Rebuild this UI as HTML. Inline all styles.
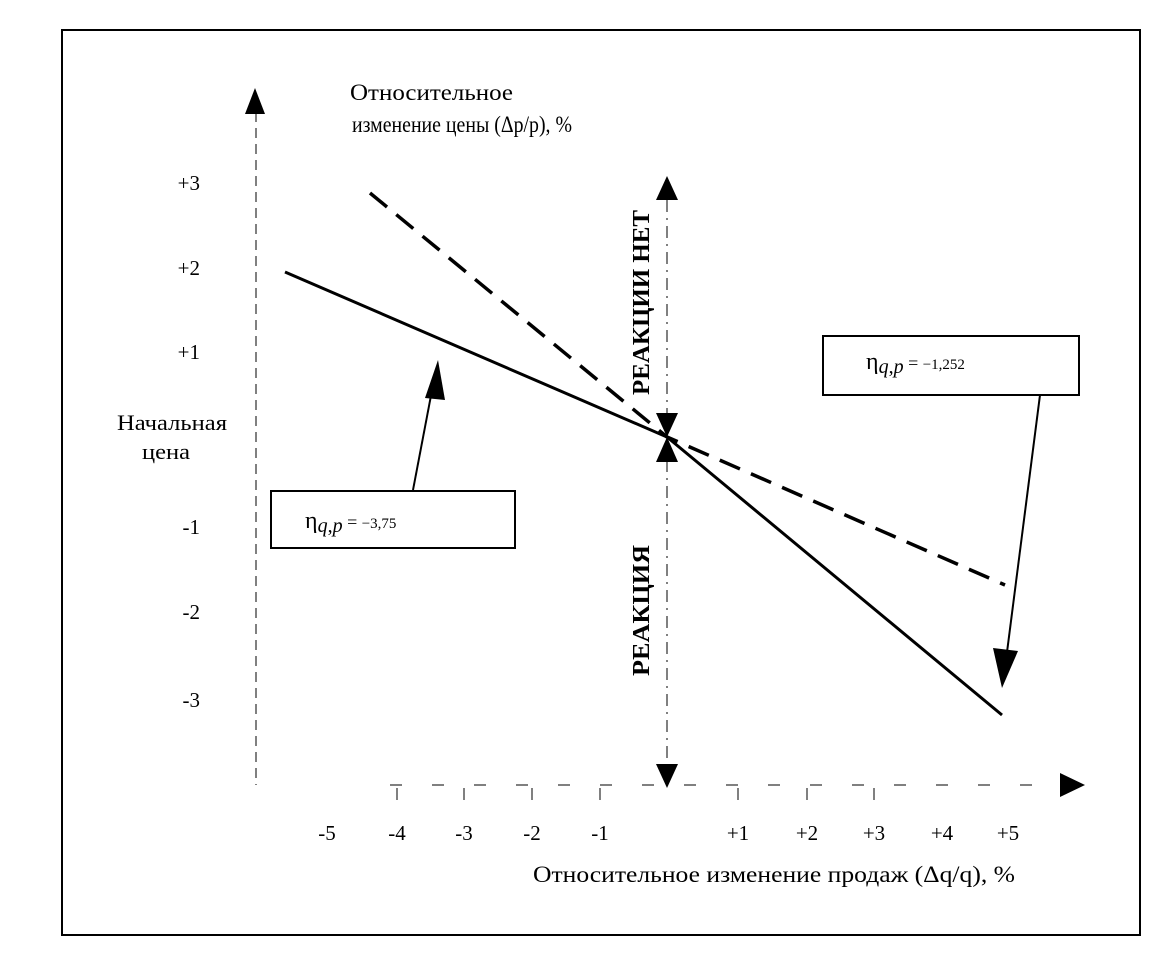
<!DOCTYPE html>
<html><head><meta charset="utf-8"><style>
body{margin:0;background:#fff}
svg text{font-family:"Liberation Serif",serif;fill:#000}
</style></head><body>
<svg width="1153" height="967" viewBox="0 0 1153 967" xmlns="http://www.w3.org/2000/svg">
<rect x="62" y="30" width="1078" height="905" fill="none" stroke="#000" stroke-width="2"/>
<line x1="256" y1="112" x2="256" y2="785" stroke="#000" stroke-width="1" stroke-dasharray="10,6"/>
<polygon points="255,88 245,114 265,114" fill="#000"/>
<line x1="390" y1="785" x2="1050" y2="785" stroke="#000" stroke-width="1" stroke-dasharray="12,30"/>
<polygon points="1085,785 1060,773 1060,797" fill="#000"/>
<g stroke="#000" stroke-width="1">
<line x1="397" y1="788" x2="397" y2="800"/><line x1="464" y1="788" x2="464" y2="800"/>
<line x1="532" y1="788" x2="532" y2="800"/><line x1="600" y1="788" x2="600" y2="800"/>
<line x1="738" y1="788" x2="738" y2="800"/><line x1="807" y1="788" x2="807" y2="800"/>
<line x1="874" y1="788" x2="874" y2="800"/>
</g>
<line x1="667" y1="200" x2="667" y2="768" stroke="#000" stroke-width="1" stroke-dasharray="12,6,2,6"/>
<polygon points="667,176 656,200 678,200" fill="#000"/>
<polygon points="667,437 656,413 678,413" fill="#000"/>
<polygon points="667,437 656,462 678,462" fill="#000"/>
<polygon points="667,788 656,764 678,764" fill="#000"/>
<polyline points="285,272 667,437 1002,715" fill="none" stroke="#000" stroke-width="3"/>
<polyline points="370,193 667,437 1005,585" fill="none" stroke="#000" stroke-width="3.5" stroke-dasharray="22,12"/>
<rect x="271" y="491" width="244" height="57" fill="#fff" stroke="#000" stroke-width="2"/>
<text x="305" y="528" font-size="24">η<tspan font-style="italic" font-size="20" dy="4">q</tspan><tspan font-size="20">,</tspan><tspan font-style="italic" font-size="20">p</tspan><tspan dy="-4" font-size="18">  =  </tspan><tspan font-size="15">−3,75</tspan></text>
<rect x="823" y="336" width="256" height="59" fill="#fff" stroke="#000" stroke-width="2"/>
<text x="866" y="369" font-size="24">η<tspan font-style="italic" font-size="20" dy="4">q</tspan><tspan font-size="20">,</tspan><tspan font-style="italic" font-size="20">p</tspan><tspan dy="-4" font-size="18">  =  </tspan><tspan font-size="15">−1,252</tspan></text>
<line x1="413" y1="490" x2="433" y2="385" stroke="#000" stroke-width="2"/>
<polygon points="438,360 425,398 445,400" fill="#000"/>
<line x1="1040" y1="395" x2="1006" y2="660" stroke="#000" stroke-width="2"/>
<polygon points="1002,688 993,648 1018,651" fill="#000"/>
<g font-size="21" text-anchor="end">
<text x="200" y="190">+3</text><text x="200" y="275">+2</text><text x="200" y="359">+1</text>
<text x="200" y="534">-1</text><text x="200" y="619">-2</text><text x="200" y="707">-3</text>
</g>
<text x="117" y="430" font-size="22" textLength="110" lengthAdjust="spacingAndGlyphs">Начальная</text>
<text x="142" y="459" font-size="22" textLength="48" lengthAdjust="spacingAndGlyphs">цена</text>
<text x="350" y="100" font-size="23" textLength="163" lengthAdjust="spacingAndGlyphs">Относительное</text>
<text x="352" y="132" font-size="23" textLength="220" lengthAdjust="spacingAndGlyphs">изменение цены (Δp/p), %</text>
<g font-size="21" text-anchor="middle">
<text x="327" y="840">-5</text><text x="397" y="840">-4</text><text x="464" y="840">-3</text>
<text x="532" y="840">-2</text><text x="600" y="840">-1</text><text x="738" y="840">+1</text>
<text x="807" y="840">+2</text><text x="874" y="840">+3</text><text x="942" y="840">+4</text>
<text x="1008" y="840">+5</text>
</g>
<text x="533" y="882" font-size="23" textLength="482" lengthAdjust="spacingAndGlyphs">Относительное изменение продаж (Δq/q), %</text>
<text transform="translate(649,395) rotate(-90)" font-size="24" font-weight="bold" textLength="185" lengthAdjust="spacingAndGlyphs">РЕАКЦИИ НЕТ</text>
<text transform="translate(649,676) rotate(-90)" font-size="24" font-weight="bold" textLength="131" lengthAdjust="spacingAndGlyphs">РЕАКЦИЯ</text>
</svg>
</body></html>
